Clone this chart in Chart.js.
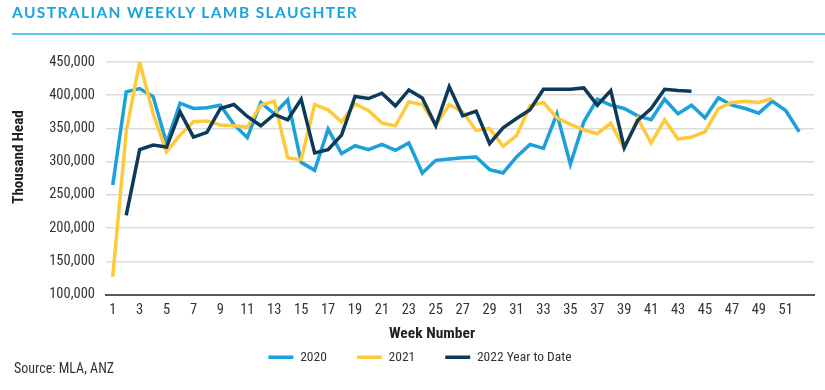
<!DOCTYPE html>
<html>
<head>
<meta charset="utf-8">
<script src="https://cdn.jsdelivr.net/npm/chart.js@4"></script>
<style>
  html, body { margin: 0; padding: 0; background: #fff; }
  body { width: 825px; height: 390px; position: relative; overflow: hidden; }
  #title {
    position: absolute; left: 12px; top: 3px;
    font: bold 15.5px Lato, "Open Sans", sans-serif; letter-spacing: 1.4px;
    color: #1ba3dc; white-space: nowrap;
  }
  #rule { position: absolute; left: 12px; right: 0; top: 33px; height: 2px; background: #5cc8f2; }
  #source {
    position: absolute; left: 14px; top: 360px;
    font: 14px "Liberation Sans Narrow", "Roboto Condensed", "Liberation Sans", sans-serif; color: #333;
  }
  #wrap { position: absolute; left: 0; top: 0; width: 825px; height: 390px; }
</style>
</head>
<body>
<div id="wrap"><canvas id="chart"></canvas></div>
<div id="title">AUSTRALIAN WEEKLY LAMB SLAUGHTER</div>
<div id="rule"></div>
<div id="source">Source: MLA, ANZ</div>
<script>
// semaines 1..52
const weeks = [1, 2, 3, 4, 5, 6, 7, 8, 9, 10, 11, 12, 13, 14, 15, 16, 17, 18, 19, 20, 21, 22, 23, 24, 25, 26,
  27, 28, 29, 30, 31, 32, 33, 34, 35, 36, 37, 38, 39, 40, 41, 42, 43, 44, 45, 46, 47, 48, 49, 50, 51, 52];
const weekTicks = [1, 3, 5, 7, 9, 11, 13, 15, 17, 19, 21, 23, 25, 27, 29, 31, 33, 35, 37, 39, 41, 43, 45, 47, 49, 51];

const y2020 = [265000, 405000, 410000, 398000, 328000, 388000, 380000, 381000, 385000, 356000, 336000, 389000, 372000,
  393000, 299000, 287000, 349000, 312000, 324000, 318000, 326000, 317000, 328000, 283000, 302000, 304000,
  306000, 307000, 288000, 283000, 307000, 326000, 320000, 372000, 296000, 360000, 394000, 385000, 380000,
  369000, 363000, 394000, 372000, 385000, 366000, 396000, 385000, 380000, 373000, 391000, 377000, 345000];
const y2021 = [127000, 345000, 450000, 372000, 315000, 340000, 360000, 361000, 355000, 354000, 352000, 385000, 391000,
  306000, 303000, 386000, 378000, 360000, 387000, 377000, 358000, 354000, 390000, 386000, 355000, 386000,
  375000, 347000, 350000, 323000, 339000, 384000, 389000, 366000, 356000, 348000, 342000, 358000, 320000,
  365000, 328000, 363000, 334000, 337000, 345000, 380000, 389000, 391000, 389000, 395000];
const y2022 = [null, 219000, 318000, 325000, 322000, 375000, 337000, 344000, 380000, 386000, 368000, 354000, 371000,
  363000, 394000, 313000, 318000, 340000, 398000, 395000, 403000, 384000, 408000, 396000, 354000, 413000,
  369000, 376000, 327000, 351000, 365000, 378000, 409000, 409000, 409000, 411000, 385000, 407000, 321000,
  362000, 380000, 409000, 407000, 406000];

const narrow = '"Liberation Sans Narrow", "Roboto Condensed", "Liberation Sans", sans-serif';
const tickFont = { family: narrow, size: 14.5 };

function toPoints(vals) {
  const pts = [];
  vals.forEach((v, i) => { if (v !== null) pts.push({ x: weeks[i], y: v }); });
  return pts;
}

// titres d'axes dessinés à la main (pas centrés sur la zone du graphique dans l'original)
const axisTitles = {
  id: 'axisTitles',
  afterDraw(chart) {
    const ctx = chart.ctx;
    ctx.save();
    ctx.fillStyle = '#222';
    ctx.textAlign = 'center';
    ctx.textBaseline = 'middle';
    ctx.font = 'bold 15.5px ' + narrow;
    ctx.fillText('Week Number', 432, 334);
    ctx.translate(19, 157);
    ctx.rotate(-Math.PI / 2);
    ctx.font = 'bold 15px ' + narrow;
    ctx.fillText('Thousand Head', 0, 0);
    ctx.restore();
  }
};

new Chart(document.getElementById('chart'), {
  type: 'line',
  data: {
    datasets: [
      { label: '2020', data: toPoints(y2020), borderColor: '#1aa0da', backgroundColor: '#1aa0da', borderWidth: 3.5, pointRadius: 0, tension: 0, order: 3 },
      { label: '2021', data: toPoints(y2021), borderColor: '#fec93a', backgroundColor: '#fec93a', borderWidth: 3.5, pointRadius: 0, tension: 0, order: 2 },
      { label: '2022 Year to Date', data: toPoints(y2022), borderColor: '#0c3a5b', backgroundColor: '#0c3a5b', borderWidth: 3.5, pointRadius: 0, tension: 0, order: 1 }
    ]
  },
  options: {
    responsive: true,
    maintainAspectRatio: false,
    animation: false,
    layout: { padding: { left: 26, right: 11, top: 62, bottom: 16 } },
    plugins: {
      legend: {
        position: 'bottom',
        labels: {
          usePointStyle: true, pointStyle: 'line', pointStyleWidth: 25,
          padding: 30, color: '#333',
          font: { family: narrow, size: 13.5 },
          sort: (a, b) => a.datasetIndex - b.datasetIndex
        }
      },
      tooltip: { enabled: false }
    },
    scales: {
      x: {
        type: 'linear', min: 0.5, max: 53.1,
        afterBuildTicks: axis => { axis.ticks = weekTicks.map(v => ({ value: v })); },
        afterFit: scale => { scale.height = 26; },
        ticks: { autoSkip: false, maxRotation: 0, padding: 7, color: '#333', font: tickFont },
        grid: { display: false, drawTicks: false },
        border: { display: true, color: '#5a5a5a', width: 2 }
      },
      y: {
        min: 100000, max: 450000,
        afterFit: scale => { scale.width = 80; },
        ticks: { stepSize: 50000, padding: 11, color: '#333', font: tickFont,
          callback: v => v.toLocaleString('en-US') },
        grid: { color: '#dcdcdc', lineWidth: 1.5, drawTicks: false },
        border: { display: false }
      }
    }
  },
  plugins: [axisTitles]
});
</script>
</body>
</html>
